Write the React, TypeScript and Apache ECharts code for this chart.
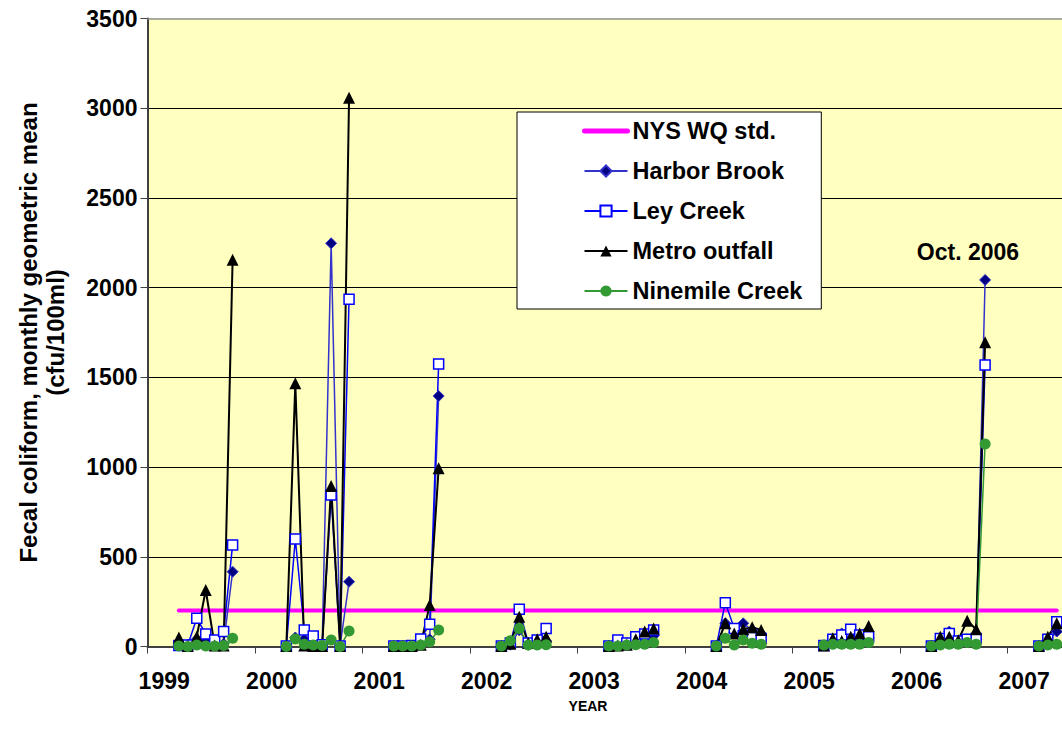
import React, { useEffect, useRef } from "react";
import * as echarts from "echarts";

const FONT = "'Liberation Sans', Arial, Helvetica, sans-serif";

const years = [1999, 2000, 2001, 2002, 2003, 2004, 2005, 2006, 2007];
// sampling months (1 = January) per year
const sampleMonths = [
  [4, 5, 6, 7, 8, 9, 10],
  [4, 5, 6, 7, 8, 9, 10, 11],
  [4, 5, 6, 7, 8, 9],
  [4, 5, 6, 7, 8, 9],
  [4, 5, 6, 7, 8, 9],
  [4, 5, 6, 7, 8, 9],
  [4, 5, 6, 7, 8, 9],
  [4, 5, 6, 7, 8, 9, 10],
  [4, 5, 6],
];

const harborBrook = [
  [5, 10, 40, 30, 10, 15, 417],
  [3, 50, 40, 20, 10, 2247, 3, 361],
  [3, 3, 5, 20, 40, 1396],
  [3, 10, 90, 10, 15, 30],
  [3, 10, 20, 30, 40, 60],
  [3, 130, 80, 129, 90, 70],
  [5, 20, 73, 40, 40, 50],
  [3, 20, 83, 30, 40, 40, 2043],
  [3, 30, 83],
];
const leyCreek = [
  [5, 8, 157, 70, 36, 83, 566],
  [3, 599, 92, 58, 10, 845, 3, 1935],
  [3, 3, 5, 42, 124, 1575],
  [3, 20, 207, 20, 36, 101],
  [3, 36, 20, 55, 70, 92],
  [3, 244, 101, 60, 50, 45],
  [5, 40, 64, 96, 64, 55],
  [3, 45, 73, 30, 40, 45, 1569],
  [3, 40, 138],
];
const metroOutfall = [
  [50, 3, 55, 315, 5, 5, 2155],
  [3, 1467, 5, 3, 3, 895, 3, 3059],
  [3, 3, 3, 10, 231, 993],
  [3, 15, 166, 20, 40, 55],
  [3, 5, 10, 40, 83, 101],
  [3, 129, 73, 96, 107, 92],
  [5, 46, 30, 55, 73, 114],
  [3, 55, 55, 35, 144, 96, 1695],
  [3, 55, 129],
];
const ninemileCreek = [
  [3, 0, 8, 3, 3, 5, 46],
  [0, 42, 13, 8, 5, 36, 0, 86],
  [3, 3, 3, 8, 27, 92],
  [3, 32, 101, 8, 8, 10],
  [3, 3, 8, 10, 13, 22],
  [3, 46, 8, 36, 18, 13],
  [8, 13, 13, 13, 13, 22],
  [3, 8, 13, 13, 22, 13, 1129],
  [3, 8, 13],
];
const nysStandard = 200;
const yearTicks = [1999, 2000, 2001, 2002, 2003, 2004, 2005, 2006, 2007];

const monthPos = (y: number, m: number) => y + (m - 0.5) / 12;

function buildSeries(values: number[][]) {
  const out: any[] = [];
  years.forEach((y, i) => {
    if (i > 0) out.push([y, "-"]);
    sampleMonths[i].forEach((m, j) => out.push([monthPos(y, m), values[i][j]]));
  });
  return out;
}

const lastIdx = years.length - 1;
const nysData = [
  [monthPos(years[0], sampleMonths[0][0]), nysStandard],
  [monthPos(years[lastIdx], sampleMonths[lastIdx][sampleMonths[lastIdx].length - 1]), nysStandard],
];

const LABEL_OFFSET = 0.155;
const X_MIN = 1999;
const X_MAX = 2007.507;

export default function App() {
  const ref = useRef<HTMLDivElement>(null);
  useEffect(() => {
    if (!ref.current) return;
    const chart = echarts.init(ref.current, undefined, { renderer: "svg" });
    const txt = { fontFamily: FONT, fontWeight: "bold" as const, color: "#000" };
    chart.setOption({
      animation: false,
      backgroundColor: "#ffffff",
      grid: {
        show: true,
        left: 147.5,
        top: 18.5,
        right: 0,
        height: 628,
        backgroundColor: "#FFFFC0",
        borderWidth: 0,
      },
      legend: {
        orient: "vertical",
        left: 517,
        top: 112,
        padding: [7, 19, 6, 65],
        itemGap: 16,
        itemWidth: 43,
        itemHeight: 14,
        backgroundColor: "#ffffff",
        borderColor: "#000",
        borderWidth: 1,
        textStyle: { ...txt, fontSize: 23.5, lineHeight: 24 },
        data: [
          { name: "NYS WQ std.", itemStyle: { opacity: 0 }, lineStyle: { width: 5, color: "#FF00FF" } },
          "Harbor Brook",
          "Ley Creek",
          "Metro outfall",
          "Ninemile Creek",
        ],
      },
      xAxis: {
        type: "value",
        min: X_MIN,
        max: X_MAX,
        axisLine: { show: true, onZero: false, lineStyle: { color: "#404040", width: 2 } },
        axisTick: { show: true, customValues: yearTicks, length: 7, lineStyle: { color: "#404040", width: 1 } },
        axisLabel: {
          ...txt,
          fontSize: 23,
          margin: 23,
          customValues: yearTicks.map((y) => y + LABEL_OFFSET),
          formatter: (v: number) => String(Math.round(v - LABEL_OFFSET)),
        },
        splitLine: { show: false },
      },
      yAxis: {
        type: "value",
        min: 0,
        max: 3500,
        interval: 500,
        axisLine: { show: true, lineStyle: { color: "#404040", width: 2 } },
        axisTick: { show: true, length: 7, lineStyle: { color: "#404040", width: 1 } },
        axisLabel: { ...txt, fontSize: 23, margin: 10, formatter: (v: number) => String(v) },
        splitLine: { show: true, showMaxLine: false, lineStyle: { color: "#000", width: 1 } },
      },
      graphic: [
        {
          type: "text",
          x: 42,
          y: 332.5,
          rotation: Math.PI / 2,
          style: {
            text: "Fecal coliform, monthly geometric mean\n(cfu/100ml)",
            font: `bold 24px ${FONT}`,
            fill: "#000",
            textAlign: "center",
            textVerticalAlign: "middle",
            lineHeight: 27,
          },
        },
        {
          type: "text",
          x: 588,
          y: 706,
          style: {
            text: "YEAR",
            font: `bold 14px ${FONT}`,
            fill: "#000",
            textAlign: "center",
            textVerticalAlign: "middle",
          },
        },
        {
          type: "text",
          x: 968,
          y: 252,
          z: 100,
          style: {
            text: "Oct. 2006",
            font: `bold 23px ${FONT}`,
            fill: "#000",
            textAlign: "center",
            textVerticalAlign: "middle",
          },
        },
      ],
      series: [
        {
          name: "NYS WQ std.",
          type: "line",
          data: nysData,
          symbol: "none",
          lineStyle: { color: "#FF00FF", width: 4, cap: "round" },
          itemStyle: { color: "#FF00FF" },
          markLine: {
            silent: true,
            symbol: ["none", "none"],
            label: { show: false },
            lineStyle: { color: "#909090", width: 1.5, type: "solid" },
            data: [{ yAxis: 3500 }],
          },
        },
        {
          name: "Harbor Brook",
          type: "line",
          data: buildSeries(harborBrook),
          symbol: "diamond",
          symbolSize: 11,
          connectNulls: false,
          lineStyle: { color: "#3333CC", width: 1.5 },
          itemStyle: { color: "#000080", borderColor: "#3333CC", borderWidth: 1 },
        },
        {
          name: "Ley Creek",
          type: "line",
          data: buildSeries(leyCreek),
          symbol: "rect",
          symbolSize: 10,
          connectNulls: false,
          lineStyle: { color: "#0000FF", width: 1.5 },
          itemStyle: { color: "#FFFFFF", borderColor: "#0000FF", borderWidth: 1.5 },
        },
        {
          name: "Metro outfall",
          type: "line",
          data: buildSeries(metroOutfall),
          symbol: "triangle",
          symbolSize: 12,
          connectNulls: false,
          lineStyle: { color: "#000000", width: 2 },
          itemStyle: { color: "#000000" },
        },
        {
          name: "Ninemile Creek",
          type: "line",
          data: buildSeries(ninemileCreek),
          symbol: "circle",
          symbolSize: 11,
          connectNulls: false,
          lineStyle: { color: "#339933", width: 1.5 },
          itemStyle: { color: "#339933" },
        },
      ],
    });
    return () => chart.dispose();
  }, []);
  return (
    <div
      ref={ref}
      style={{ position: "absolute", left: 0, top: 0, width: 1062, height: 729 }}
    />
  );
}
